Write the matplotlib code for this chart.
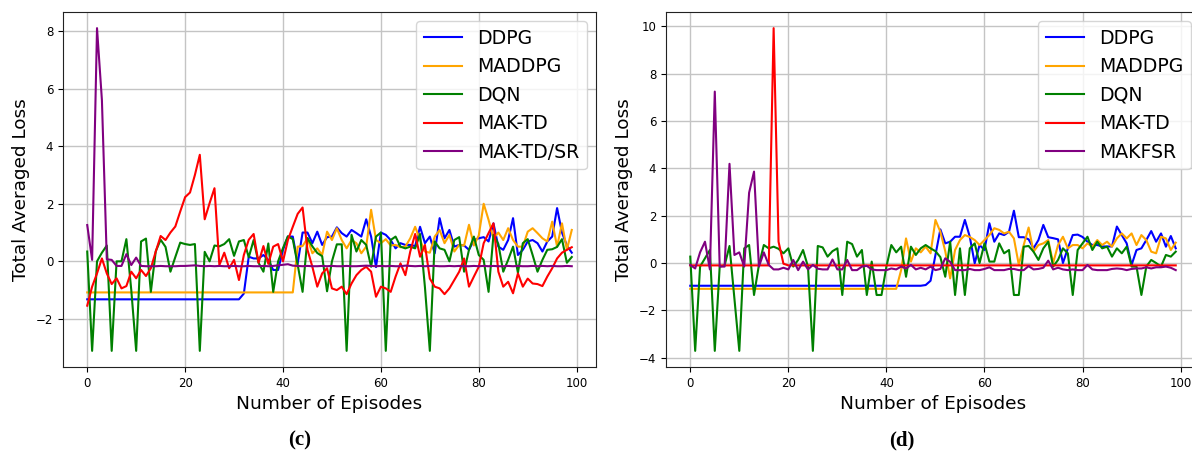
import numpy as np
import matplotlib
matplotlib.use('Agg')
import matplotlib.pyplot as plt

# episodes on the x axis
episodes = np.arange(100)
labels_c = ['DDPG', 'MADDPG', 'DQN', 'MAK-TD', 'MAK-TD/SR']
labels_d = ['DDPG', 'MADDPG', 'DQN', 'MAK-TD', 'MAKFSR']
colors = ['blue', 'orange', 'green', 'red', 'purple']

#(c) panel
ddpg_c = [-1.32, -1.32, -1.32, -1.32, -1.32, -1.32, -1.32, -1.32, -1.32, -1.32,
          -1.32, -1.32, -1.32, -1.32, -1.32, -1.32, -1.32, -1.32, -1.32, -1.32,
          -1.32, -1.32, -1.32, -1.32, -1.32, -1.32, -1.32, -1.32, -1.32, -1.32,
          -1.32, -1.32, -1.12, 0.16, 0.10, 0.10, 0.22, 0.05, -0.30, -0.30,
          0.40, 0.86, 0.86, -0.07, 1.00, 1.00, 0.63, 1.03, 0.57, 0.84,
          0.86, 1.18, 0.98, 0.86, 1.09, 0.98, 0.86, 1.46, 0.86, -0.20,
          1.00, 0.92, 0.74, 0.45, 0.63, 0.57, 0.57, 0.53, 1.20, 0.63,
          0.86, 0.28, 1.50, 0.80, 1.09, 0.51, 0.57, 0.55, 0.40, 0.74,
          0.80, 0.84, 0.69, 1.32, 0.51, 0.40, 0.74, 1.50, 0.22, 0.40,
          0.69, 0.74, 0.63, 0.34, 0.69, 0.86, 1.85, 1.00, 0.55, 0.30]
maddpg_c = [-1.08, -1.08, -1.08, -1.08, -1.08, -1.08, -1.08, -1.08, -1.08, -1.08,
            -1.08, -1.08, -1.08, -1.08, -1.08, -1.08, -1.08, -1.08, -1.08, -1.08,
            -1.08, -1.08, -1.08, -1.08, -1.08, -1.08, -1.08, -1.08, -1.08, -1.08,
            -1.08, -1.08, -1.08, -1.08, -1.08, -1.08, -1.08, -1.08, -1.08, -1.08,
            -1.08, -1.08, -1.08, 0.51, 0.53, 0.80, 0.28, 0.45, 0.22, 1.03,
            0.74, 1.15, 0.74, 0.45, 0.74, 0.63, 0.28, 0.51, 1.79, 0.74,
            0.63, 0.77, 0.55, 0.57, 0.49, 0.51, 0.80, 1.20, 0.74, 0.34,
            0.30, 0.86, 1.09, 0.63, 0.92, 0.34, 0.57, 0.55, 1.27, 0.55,
            0.90, 2.00, 1.44, 0.80, 1.00, 0.74, 1.15, 0.74, 0.51, 0.51,
            1.03, 1.15, 0.98, 0.80, 0.69, 1.38, 0.51, 1.32, 0.40, 1.09]
dqn_c = [0.34, -3.11, 0.00, 0.30, 0.55, -3.11, 0.00, 0.00, 0.77, -1.00,
         -3.11, 0.69, 0.79, -1.06, 0.35, 0.75, 0.50, -0.36, 0.15, 0.65,
         0.60, 0.57, 0.60, -3.11, 0.33, 0.00, 0.55, 0.52, 0.60, 0.77,
         0.19, 0.69, 0.74, 0.14, 0.74, -0.05, -0.36, 0.62, -1.06, 0.00,
         0.46, 0.87, 0.77, -0.12, -1.06, 0.81, 0.52, 0.29, 0.18, -1.04,
         0.00, 0.59, 0.59, -3.11, 0.92, 0.34, 0.74, 0.57, -0.19, 0.86,
         1.00, -3.11, 0.74, 0.86, 0.51, 0.45, 0.51, 0.45, 0.95, -0.90,
         -3.11, 0.69, 0.45, 0.40, 0.00, 0.74, 0.84, -0.36, 0.40, 0.86,
         0.22, 0.05, -1.06, 0.92, 0.60, -0.36, 0.05, 0.51, -0.40, 0.63,
         0.77, 0.22, -0.36, 0.05, 0.40, 0.42, 0.50, 0.77, -0.05, 0.15]
maktd_c = [-1.54, -0.88, -0.42, 0.10, -0.42, -0.79, -0.59, -0.94, -0.86, -0.36,
           -0.59, -0.30, -0.51, -0.24, 0.34, 0.88, 0.74, 1.00, 1.21, 1.73,
           2.23, 2.39, 3.00, 3.70, 1.46, 2.02, 2.54, -0.13, 0.30, -0.24,
           0.05, -0.65, 0.22, 0.75, 0.95, -0.05, 0.53, -0.09, 0.51, 0.60,
           0.00, 0.74, 1.20, 1.65, 1.87, 0.40, -0.19, -0.88, -0.42, -0.24,
           -0.94, -1.00, -0.88, -1.14, -0.77, -0.48, -0.30, -0.19, -0.36, -1.23,
           -0.88, -0.94, -1.06, -0.53, -0.07, -0.48, 0.34, 0.95, 0.16, 0.57,
           -0.60, -0.88, -0.94, -1.14, -0.94, -0.65, -0.36, 0.10, -0.88, -0.53,
           -0.19, 0.63, 0.98, 1.32, -0.36, -0.88, -0.71, -1.11, -0.42, -0.88,
           -0.60, -0.77, -0.79, -0.86, -0.53, -0.24, 0.10, 0.30, 0.40, 0.49]
maktdsr_c = [1.26, 0.05, 8.10, 5.60, 0.07, 0.05, -0.16, -0.16, 0.25, -0.13,
             0.13, -0.16, -0.17, -0.17, -0.17, -0.16, -0.17, -0.17, -0.17, -0.16,
             -0.16, -0.15, -0.14, -0.16, -0.17, -0.16, -0.17, -0.16, -0.17, -0.17,
             -0.16, -0.17, -0.17, -0.16, -0.17, -0.17, -0.16, -0.17, -0.16, -0.14,
             -0.12, -0.10, -0.15, -0.16, -0.17, -0.16, -0.17, -0.17, -0.16, -0.17,
             -0.16, -0.17, -0.17, -0.16, -0.17, -0.17, -0.16, -0.15, -0.16, -0.17,
             -0.16, -0.17, -0.16, -0.17, -0.17, -0.15, -0.16, -0.17, -0.16, -0.17,
             -0.16, -0.16, -0.17, -0.17, -0.16, -0.17, -0.16, -0.17, -0.17, -0.16,
             -0.17, -0.16, -0.17, -0.16, -0.17, -0.17, -0.16, -0.17, -0.16, -0.17,
             -0.17, -0.16, -0.17, -0.16, -0.17, -0.16, -0.17, -0.17, -0.16, -0.17]

#(d) panel
ddpg_d = [-0.96, -0.96, -0.96, -0.96, -0.96, -0.96, -0.96, -0.96, -0.96, -0.96,
          -0.96, -0.96, -0.96, -0.96, -0.96, -0.96, -0.96, -0.96, -0.96, -0.96,
          -0.96, -0.96, -0.96, -0.96, -0.96, -0.96, -0.96, -0.96, -0.96, -0.96,
          -0.96, -0.96, -0.96, -0.96, -0.96, -0.96, -0.96, -0.96, -0.96, -0.96,
          -0.96, -0.96, -0.96, -0.96, -0.96, -0.96, -0.96, -0.96, -0.93, -0.75,
          0.34, 1.42, 0.83, 0.90, 1.11, 1.11, 1.82, 1.11, -0.01, 0.76,
          0.55, 1.68, 0.90, 1.25, 1.18, 1.32, 2.21, 1.09, 1.09, 1.00,
          0.62, 0.97, 1.61, 1.09, 1.05, 1.00, 0.00, 0.62, 1.18, 1.20,
          1.10, 0.90, 0.76, 0.76, 0.70, 0.70, 0.70, 1.54, 1.18, 0.83,
          -0.08, 0.55, 0.62, 0.97, 1.35, 0.90, 1.25, 0.69, 1.14, 0.62]
maddpg_d = [-1.09, -1.09, -1.09, -1.09, -1.09, -1.09, -1.09, -1.09, -1.09, -1.09,
            -1.09, -1.09, -1.09, -1.09, -1.09, -1.09, -1.09, -1.09, -1.09, -1.09,
            -1.09, -1.09, -1.09, -1.09, -1.09, -1.09, -1.09, -1.09, -1.09, -1.09,
            -1.09, -1.09, -1.09, -1.09, -1.09, -1.09, -1.09, -1.09, -1.09, -1.09,
            -1.09, -1.09, -1.09, -0.30, 1.04, 0.06, 0.62, 0.45, 0.69, 0.41,
            1.82, 1.32, 0.50, -0.65, 0.55, 0.97, 1.18, 1.10, 0.97, 0.76,
            0.97, 1.18, 1.47, 1.40, 1.25, 1.32, 1.04, -0.08, 0.76, 1.50,
            0.48, 0.76, 0.83, 0.97, 0.00, 0.76, 1.11, 0.62, 0.76, 0.76,
            0.62, 0.83, 0.69, 0.97, 0.76, 0.90, 0.69, 1.04, 1.25, 1.04,
            1.25, 0.76, 1.18, 0.97, 0.48, 0.41, 1.11, 1.04, 0.55, 0.86]
dqn_d = [0.27, -3.71, -0.15, 0.20, 0.55, -3.71, -0.15, -0.10, 0.72, -1.50,
         -3.71, 0.62, 0.76, -1.35, -0.08, 0.76, 0.62, 0.69, 0.60, 0.41,
         0.62, -0.15, 0.13, 0.55, -0.15, -3.71, 0.72, 0.66, 0.27, 0.50,
         0.62, -1.35, 0.90, 0.80, 0.27, 0.55, -1.35, 0.06, -1.35, -1.35,
         -0.15, 0.76, 0.45, 0.69, -0.58, 0.69, 0.34, 0.62, 0.76, 0.62,
         0.50, 0.25, -0.58, 0.90, -1.35, 0.62, -1.35, 0.62, 0.83, 0.00,
         0.83, 0.06, 0.06, 0.83, 0.41, 0.55, -1.35, -1.35, 0.69, 0.72,
         0.48, 0.13, 0.62, 0.90, -0.15, 0.13, 0.62, 0.41, -1.35, 0.55,
         0.83, 1.11, 0.55, 0.90, 0.62, 0.69, 0.27, 0.62, 0.41, 0.69,
         -0.15, -0.15, -1.35, -0.15, 0.13, 0.00, -0.15, 0.34, 0.27, 0.48]
maktd_d = [-0.10, -0.10, -0.10, -0.10, -0.10, -0.10, -0.10, -0.10, -0.10, -0.10,
           -0.10, -0.10, -0.10, -0.10, -0.10, -0.10, -0.10, 9.92, 0.90, -0.03,
           -0.10, -0.10, -0.10, -0.10, -0.10, -0.10, -0.10, -0.10, -0.10, -0.10,
           -0.10, -0.10, -0.10, -0.10, -0.10, -0.10, -0.10, -0.10, -0.10, -0.10,
           -0.10, -0.10, -0.10, -0.10, -0.10, -0.10, -0.10, -0.10, -0.10, -0.10,
           -0.10, -0.10, -0.10, -0.10, -0.10, -0.10, -0.10, -0.10, -0.10, -0.10,
           -0.10, -0.10, -0.10, -0.10, -0.10, -0.10, -0.10, -0.10, -0.10, -0.10,
           -0.10, -0.10, -0.10, -0.10, -0.10, -0.10, -0.10, -0.10, -0.10, -0.10,
           -0.10, -0.10, -0.10, -0.10, -0.10, -0.10, -0.10, -0.10, -0.10, -0.10,
           -0.10, -0.10, -0.10, -0.10, -0.10, -0.10, -0.10, -0.10, -0.10, -0.10]
makfsr_d = [-0.08, -0.23, 0.45, 0.90, -0.27, 7.24, -0.15, -0.15, 4.19, 0.34,
            0.45, -0.15, 2.97, 3.86, -0.15, 0.45, -0.08, -0.27, -0.27, -0.20,
            -0.27, 0.13, -0.30, 0.06, -0.27, -0.08, -0.24, -0.27, -0.27, 0.15,
            -0.27, -0.27, 0.13, -0.30, -0.30, -0.15, -0.12, -0.27, -0.30, -0.30,
            -0.30, -0.23, -0.27, -0.15, -0.23, -0.08, -0.27, -0.20, -0.27, -0.15,
            -0.30, -0.25, 0.20, 0.05, -0.30, -0.30, -0.30, -0.25, -0.30, -0.30,
            -0.25, -0.18, -0.30, -0.30, -0.30, -0.25, -0.25, -0.30, -0.30, -0.13,
            -0.27, -0.25, -0.20, 0.10, -0.27, -0.20, -0.27, -0.30, -0.27, -0.30,
            -0.30, -0.08, -0.27, -0.30, -0.30, -0.30, -0.25, -0.23, -0.25, -0.30,
            -0.25, -0.23, -0.23, -0.18, -0.23, -0.18, -0.18, -0.15, -0.20, -0.30]

series_c = [ddpg_c, maddpg_c, dqn_c, maktd_c, maktdsr_c]
series_d = [ddpg_d, maddpg_d, dqn_d, maktd_d, makfsr_d]

W, H = 1192, 454
fig = plt.figure(figsize=(W / 100, H / 100), dpi=100)

#axes rectangles in pixels (left, top, right, bottom)
ax_c = fig.add_axes([63 / W, 1 - 367 / H, (596 - 63) / W, 355 / H])
ax_d = fig.add_axes([666 / W, 1 - 367 / H, (1200 - 666) / W, 355 / H])


def Draw_Panel(ax, series, labels):
    for i in range(len(series)):
        ax.plot(episodes, series[i], color=colors[i], lw=1.5, label=labels[i])
    ax.grid(True, color='#c4c4c4', lw=1.0)
    ax.set_axisbelow(True)
    ax.set_xlabel('Number of Episodes', fontsize=13.3)
    ax.set_ylabel('Total Averaged Loss', fontsize=13.3)
    ax.tick_params(labelsize=8.5)
    ax.legend(loc='upper right', fontsize=13.6)
    for s in ax.spines.values():
        s.set_color('#222222')
    return ax


Draw_Panel(ax_c, series_c, labels_c)
Draw_Panel(ax_d, series_d, labels_d)

#sub captions
fig.text(300 / W, 1 - 440 / H, '(c)', ha='center', va='center',
         family='Liberation Serif', fontweight='bold', fontsize=15)
fig.text(902 / W, 1 - 440 / H, '(d)', ha='center', va='center',
         family='Liberation Serif', fontweight='bold', fontsize=15)

fig.savefig('out.png', dpi=100)
